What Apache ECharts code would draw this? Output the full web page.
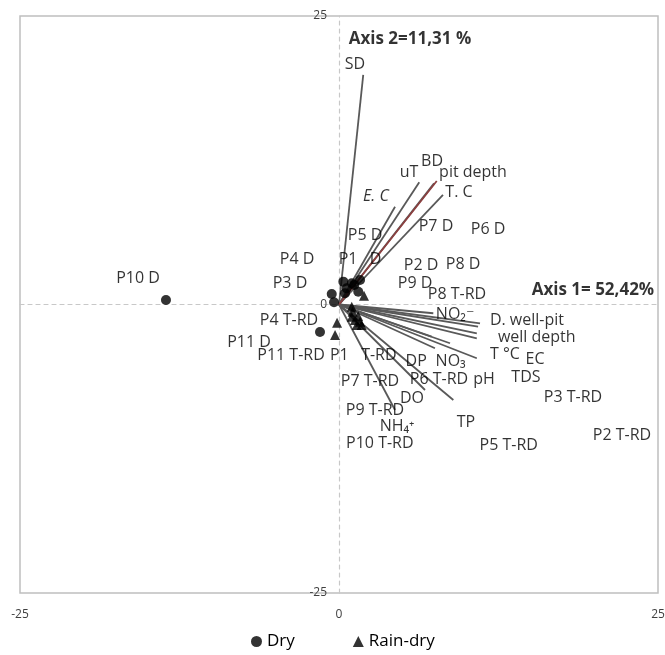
<!DOCTYPE html>
<html lang="en">
<head>
    <meta charset="UTF-8">
    <script src="https://cdn.jsdelivr.net/npm/echarts@6/dist/echarts.min.js"></script>
    <title>PCA biplot</title>
    <style>
        html, body {margin: 0; padding: 0; background: #fff;}
    </style>
</head>
<body>
    <div id="biplot" style="width: 665px;height:655px;"></div>
</body>
<script type="text/javascript">
    // axis ticks
    var axisTicks = [-25, 0, 25];

    // sample scores (Axis 1, Axis 2)
    var dryX = [-13.56, -1.49, 0.34, 1.0, 1.65, 0.6, 0.47, 1.51, -0.57, -0.39, 1.2];
    var dryY = [0.39, -2.38, 1.98, 1.84, 2.12, 1.4, 0.97, 1.11, 0.91, 0.19, 1.7];
    var rainX = [1.96, 1.0, 1.07, 1.0, 1.25, 1.65, 1.39, 1.78, -0.15, -0.31, 1.5];
    var rainY = [0.76, -0.19, -0.62, -1.06, -1.34, -1.49, -1.78, -1.78, -1.58, -2.64, -1.0];

    // variable loadings (vector ends)
    var varNames = ['SD', 'E. C', 'uT', 'BD', 'T. C', 'pit depth', 'NO2', 'D. well-pit', 'well depth', 'EC', 'TDS', 'T °C', 'pH', 'NO3', 'DP', 'TP', 'DO', 'NH4+'];
    var varX = [1.9, 4.39, 6.29, 7.45, 8.15, 7.66, 7.39, 11.05, 10.9, 10.8, 10.8, 10.8, 8.7, 7.26, 7.52, 8.96, 6.74, 4.39];
    var varY = [19.9, 8.47, 10.59, 10.5, 9.49, 10.7, -0.76, -1.63, -1.92, -2.5, -2.93, -4.66, -3.36, -2.79, -3.79, -8.28, -7.41, -9.14];
    var highlightVar = 'pit depth';

    // sample labels placed in the plane
    var sampleLabels = ['P10 D', 'P4 D', 'P3 D', 'P1   D', 'P5 D', 'P7 D', 'P6 D', 'P2 D', 'P8 D', 'P9 D', 'P8 T-RD',
        'P4 T-RD', 'P11 D', 'P11 T-RD', 'P1   T-RD', 'P7 T-RD', 'P6 T-RD', 'P9 T-RD', 'P10 T-RD', 'P3 T-RD', 'P5 T-RD', 'P2 T-RD'];
    var sampleLabelX = [-15.75, -3.29, -3.84, 1.65, 2.04, 7.6, 11.68, 6.43, 9.72, 5.96, 9.25,
        -3.92, -7.05, -3.76, 1.9, 2.43, 7.84, 2.82, 3.2, 18.34, 13.3, 22.18];
    var sampleLabelY = [2.3, 3.94, 1.86, 3.94, 6.02, 6.8, 6.54, 3.42, 3.51, 1.86, 0.91,
        -1.34, -3.25, -4.38, -4.38, -6.63, -6.46, -9.14, -12.0, -8.02, -12.17, -11.31];

    // variable labels
    var varLabels = ['SD', 'uT', 'BD', 'pit depth', 'T. C', 'E. C', 'NO₂⁻', 'D. well-pit', 'well depth', 'T °C', 'EC', 'TDS', 'pH', 'NO₃', 'DP', 'DO', 'TP', 'NH₄⁺'];
    var varLabelX = [1.25, 5.49, 7.29, 10.5, 9.4, 2.9, 9.1, 14.73, 15.5, 13.0, 15.36, 14.65, 11.36, 8.75, 6.05, 5.72, 9.95, 4.55];
    var varLabelY = [20.84, 11.48, 12.43, 11.48, 9.75, 9.4, -0.82, -1.34, -2.82, -4.29, -4.72, -6.28, -6.46, -4.9, -4.9, -8.1, -10.18, -10.6];

    // axis titles
    var axisTitles = ['Axis 2=11,31 %', 'Axis 1= 52,42%'];
    var axisTitleX = [5.56, 19.9];
    var axisTitleY = [23.0, 1.26];

    var chart = echarts.init(document.getElementById('biplot'));
    var font = '"Open Sans", "DejaVu Sans", sans-serif';

    function pairs(xs, ys) {
        return xs.map(function (x, i) { return [x, ys[i]]; });
    }

    var grayVectors = [], redVectors = [];
    varNames.forEach(function (n, i) {
        var item = {name: n, coords: [[0, 0], [varX[i], varY[i]]]};
        if (n === highlightVar) redVectors.push(item); else grayVectors.push(item);
    });

    function textSeries(name, labels, xs, ys, extra) {
        return {
            name: name,
            type: 'scatter',
            symbolSize: 0,
            silent: true,
            z: 5,
            data: labels.map(function (t, i) {
                var d = {value: [xs[i], ys[i]], name: t};
                if (t === 'E. C') d.label = {fontStyle: 'italic'};
                return d;
            }),
            label: Object.assign({
                show: true,
                position: 'inside',
                formatter: '{b}',
                color: '#000',
                fontFamily: font,
                fontSize: 16
            }, extra || {})
        };
    }

    var gridW = 638;

    chart.setOption({
        animation: false,
        grid: {
            left: 20, top: 16, width: gridW, height: 577,
            containLabel: false,
            outerBoundsMode: 'none',
            show: true, borderColor: '#bfbfbf', borderWidth: 1.5
        },
        legend: {
            bottom: 0,
            left: 246,
            itemGap: 58,
            itemWidth: 11,
            itemHeight: 11,
            data: [{name: 'Dry', icon: 'circle'}, {name: 'Rain-dry', icon: 'triangle'}],
            textStyle: {fontFamily: font, fontSize: 17, color: '#000'}
        },
        xAxis: [{
            type: 'value', min: axisTicks[0], max: axisTicks[2], interval: 25,
            axisLine: {show: false, onZero: false},
            axisTick: {show: false},
            splitLine: {show: false},
            axisLabel: {margin: 16, fontSize: 12, color: '#404040', fontFamily: font}
        }, {
            type: 'value', min: axisTicks[0], max: axisTicks[2], interval: 25,
            position: 'bottom',
            axisLine: {show: true, onZero: true, lineStyle: {color: '#c8c8c8', type: [4, 4], width: 1.2}},
            axisTick: {show: false},
            splitLine: {show: false},
            axisLabel: {show: false}
        }],
        yAxis: {
            type: 'value', min: axisTicks[0], max: axisTicks[2], interval: 25,
            position: 'left',
            offset: -gridW / 2,
            axisLine: {show: true, onZero: false, lineStyle: {color: '#c8c8c8', type: [4, 4], width: 1.2}},
            axisTick: {show: false},
            splitLine: {show: false},
            axisLabel: {margin: 12, fontSize: 12, color: '#404040', fontFamily: font}
        },
        series: [{
            name: 'vectors',
            type: 'lines',
            coordinateSystem: 'cartesian2d',
            silent: true,
            z: 3,
            lineStyle: {color: '#595959', width: 1.8, opacity: 1},
            data: grayVectors
        }, {
            name: 'highlight',
            type: 'lines',
            coordinateSystem: 'cartesian2d',
            silent: true,
            z: 4,
            lineStyle: {color: '#8c3f3f', width: 1.8, opacity: 1},
            data: redVectors
        }, {
            name: 'Dry',
            type: 'scatter',
            symbol: 'circle',
            symbolSize: 10,
            z: 6,
            itemStyle: {color: '#000'},
            data: pairs(dryX, dryY)
        }, {
            name: 'Rain-dry',
            type: 'scatter',
            symbol: 'triangle',
            symbolSize: 10,
            z: 6,
            itemStyle: {color: '#000'},
            data: pairs(rainX, rainY)
        },
            textSeries('sampleLabels', sampleLabels, sampleLabelX, sampleLabelY),
            textSeries('varLabels', varLabels, varLabelX, varLabelY),
            textSeries('axisTitles', axisTitles, axisTitleX, axisTitleY, {fontWeight: 'bold', fontSize: 17})
        ]
    });
</script>
</html>
